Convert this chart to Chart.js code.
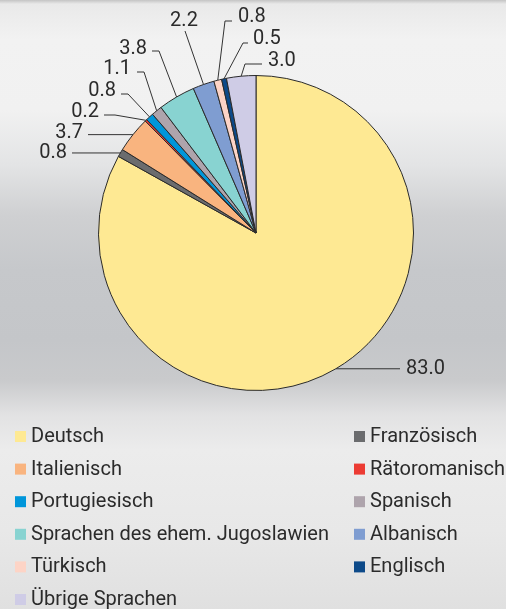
<!DOCTYPE html>
<html>
<head>
<meta charset="utf-8">
<script src="https://cdn.jsdelivr.net/npm/chart.js@4.4.1/dist/chart.umd.min.js"></script>
<style>
  html, body { margin: 0; padding: 0; width: 506px; height: 609px; overflow: hidden; }
  body {
    background: linear-gradient(to bottom,
      #c4c4c4 0px, #e9e9e9 4px, #f2f2f2 40px, #f1f1f1 110px, #e3e4e5 165px,
      #cfd0d2 215px, #c6c8cb 270px, #c4c6c9 340px, #c9cacc 380px,
      #e2e2e3 415px, #ececec 450px, #e8e8e8 530px, #e0e0e0 609px);
  }
  canvas { display: block; }
</style>
</head>
<body>
<canvas id="c" width="506" height="609"></canvas>
<script>
// ---- data ----
const categories = [
  'Deutsch', 'Französisch', 'Italienisch', 'Rätoromanisch', 'Portugiesisch',
  'Spanisch', 'Sprachen des ehem. Jugoslawien', 'Albanisch', 'Türkisch',
  'Englisch', 'Übrige Sprachen'
];
const values = [83.0, 0.8, 3.7, 0.2, 0.8, 1.1, 3.8, 2.2, 0.8, 0.5, 3.0];
const valueLabels = ['83.0', '0.8', '3.7', '0.2', '0.8', '1.1', '3.8', '2.2', '0.8', '0.5', '3.0'];

// ---- styles ----
const colors = [
  '#fee993', '#6b6c6e', '#f9b47f', '#ec3b33', '#0096da',
  '#aea4ac', '#88d3d1', '#7f9dd1', '#fdd4c6', '#0d4a89', '#cfcce6'
];
const textColor = '#2b2b2b';
const lineColor = '#333333';
const FONT = 'Roboto, "Noto Sans", sans-serif';

// label layout: text anchor (x, y-center), alignment, optional elbow point and stub end
const labelLayout = [
  { tx: 406, ty: 369, align: 'left',  lineTo: 400 },
  { tx: 67,  ty: 153, align: 'right', lineTo: 72 },
  { tx: 83,  ty: 133, align: 'right', lineTo: 88 },
  { tx: 99,  ty: 112, align: 'right', elbow: [115, 115], stub: 104 },
  { tx: 116, ty: 91,  align: 'right', elbow: [128, 94],  stub: 121 },
  { tx: 131, ty: 69,  align: 'right', elbow: [144, 72],  stub: 137 },
  { tx: 147, ty: 49,  align: 'right', elbow: [159, 51],  stub: 152 },
  { tx: 184, ty: 21,  align: 'center', elbow: [185, 31] },
  { tx: 238, ty: 17,  align: 'left',  elbow: [225, 21],  stub: 232 },
  { tx: 253, ty: 39,  align: 'left',  elbow: [243, 43],  stub: 248 },
  { tx: 268, ty: 61,  align: 'left',  elbow: [245, 64],  stub: 262 }
];

// legend layout
const legendCols = [15, 354];
const legendRowTop = 431;
const legendRowStep = 32.6;
const legendBox = 11;

const leaderPlugin = {
  id: 'leaders',
  afterDatasetsDraw(chart) {
    const ctx = chart.ctx;
    const meta = chart.getDatasetMeta(0);
    ctx.save();
    ctx.strokeStyle = lineColor;
    ctx.lineWidth = 1;
    ctx.fillStyle = textColor;
    ctx.font = '20px ' + FONT;
    ctx.textBaseline = 'middle';
    meta.data.forEach((arc, i) => {
      const p = arc.getProps(['x', 'y', 'startAngle', 'endAngle', 'outerRadius'], true);
      const mid = (p.startAngle + p.endAngle) / 2;
      const ax = p.x + Math.cos(mid) * p.outerRadius;
      const ay = p.y + Math.sin(mid) * p.outerRadius;
      const L = labelLayout[i];
      ctx.beginPath();
      if (L.elbow) {
        ctx.moveTo(ax, ay);
        ctx.lineTo(L.elbow[0], L.elbow[1]);
        if (L.stub !== undefined) ctx.lineTo(L.stub, L.elbow[1]);
      } else {
        ctx.moveTo(ax, ay);
        ctx.lineTo(L.lineTo, ay);
      }
      ctx.stroke();
      ctx.textAlign = L.align;
      ctx.fillText(valueLabels[i], L.tx, L.ty);
    });
    ctx.restore();
  }
};

const legendPlugin = {
  id: 'gridLegend',
  afterDraw(chart) {
    const ctx = chart.ctx;
    const labels = chart.data.labels;
    const bg = chart.data.datasets[0].backgroundColor;
    ctx.save();
    ctx.font = '20px ' + FONT;
    ctx.textAlign = 'left';
    ctx.textBaseline = 'alphabetic';
    labels.forEach((lab, i) => {
      const col = i % 2;
      const row = Math.floor(i / 2);
      const x = legendCols[col];
      const y = legendRowTop + row * legendRowStep;
      ctx.fillStyle = bg[i];
      ctx.fillRect(x, y, legendBox, legendBox);
      ctx.fillStyle = textColor;
      ctx.fillText(lab, x + legendBox + 5, y + legendBox);
    });
    ctx.restore();
  }
};

new Chart(document.getElementById('c'), {
  type: 'pie',
  data: {
    labels: categories,
    datasets: [{
      data: values,
      backgroundColor: colors,
      borderColor: '#2a2a2a',
      borderWidth: 1
    }]
  },
  options: {
    responsive: false,
    animation: false,
    layout: { padding: { left: 98, right: 92, top: 75, bottom: 218 } },
    plugins: {
      legend: { display: false },
      tooltip: { enabled: false }
    }
  },
  plugins: [leaderPlugin, legendPlugin]
});
</script>
</body>
</html>
